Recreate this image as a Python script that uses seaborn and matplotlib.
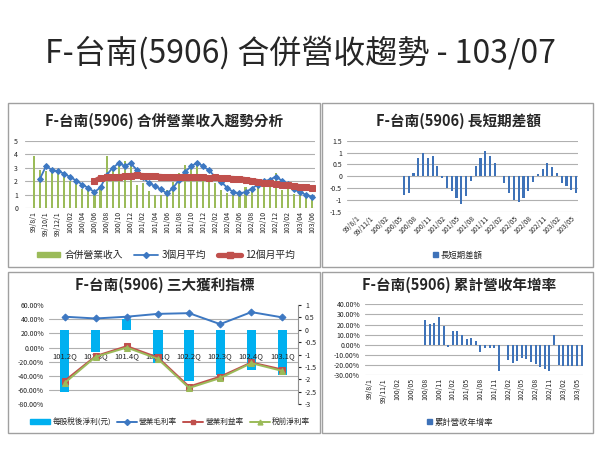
import numpy as np
import pandas as pd
import matplotlib
matplotlib.use('Agg')
import matplotlib.pyplot as plt
import matplotlib.patches as mpatches
from matplotlib.lines import Line2D
import seaborn as sns

# ---- data ----
months = (["99/8/1", "99/9/1", "99/10/1", "99/11/1", "99/12/1"]
          + [f"{y}/{m:02d}" for y in (100, 101, 102) for m in range(1, 13)]
          + [f"103/{m:02d}" for m in range(1, 7)])

revenue = [3.87, 2.8, 2.75, 2.7, 2.6, 2.3, 2.0, 1.9, 1.4, 1.35, 1.2, 1.5,
           3.9, 2.95, 3.1, 3.5, 3.2, 1.7, 1.85, 1.25, 1.0, 1.0, 1.35, 1.95,
           2.6, 3.2, 3.2, 3.5, 2.0, 2.1, 1.9, 1.35, 1.15, 1.05, 1.15, 1.55,
           1.45, 1.8, 1.8, 1.55, 2.6, 1.35, 1.4, 1.05, 1.0, 0.95, 0.8]

avg3 = [None,
        2.2, 3.15, 2.8, 2.75, 2.55, 2.3, 2.05, 1.75, 1.5, 1.2, 1.55, 2.45,
        3.0, 3.32, 3.15, 3.32, 2.85, 2.3, 1.85, 1.65, 1.4, 1.1, 1.5, 2.1,
        2.7, 3.1, 3.38, 3.1, 2.8, 2.3, 1.95, 1.5, 1.2, 1.1, 1.2, 1.45,
        1.75, 2.0, 2.1, 2.35, 2.05, 1.8, 1.4, 1.2, 1.0, 0.85]

avg12 = [None] * 10 + [
    2.0, 2.25, 2.28, 2.3, 2.33, 2.38, 2.42, 2.45, 2.42, 2.4, 2.38, 2.35,
    2.32, 2.3, 2.28, 2.3, 2.3, 2.3, 2.28, 2.25, 2.28, 2.25, 2.22, 2.2,
    2.18, 2.12, 2.05, 1.98, 1.9, 1.85, 1.8, 1.75, 1.7, 1.65, 1.6, 1.55, 1.5]

spread = [None] * 10 + [
    -0.8, -0.68, 0.15, 0.77, 0.98, 0.78, 0.85, 0.45, -0.05, -0.5, -0.62,
    -0.9, -1.15, -0.82, -0.18, 0.42, 0.78, 1.05, 0.85, 0.55, 0.01, -0.27,
    -0.68, -0.98, -1.08, -0.92, -0.6, -0.22, 0.08, 0.3, 0.55, 0.38, 0.15,
    -0.3, -0.4, -0.58, -0.68]

yoy = [None] * 12 + [
    25, 21, 22, 27.5, 19, -2, 14, 14, 10, 6, 7, 4, -7, -2.7, -2.7, -2.7,
    -26, None, -15, -17.7, -15.7, -13.3, -14.3, -16.7, -19, -22.3, -23.3,
    -25.7, 9.3, -20, -21, -20.7, -20.7, -21, -21]

quarters = ["101.2Q", "101.3Q", "101.4Q", "102.1Q", "102.2Q", "102.3Q", "102.4Q", "103.1Q"]
eps = [-2.5, -0.9, 0.45, -1.35, -2.05, -1.8, -1.6, -1.8]
gross_margin = [43.5, 41, 43.5, 47.5, 48.5, 33, 50, 42.5]
op_margin = [-47, -12, 2, -14, -55, -41, -21, -31]
pretax_margin = [-50, -13, 0, -16, -57, -43, -22, -33]

GREEN = '#9BBB59'
BLUE = '#3D78C2'
RED = '#C0504D'
BARBLUE = '#3E72B8'
CYAN = '#00B0F0'
GRID = '#B0B0B0'

sns.set_style('white')
plt.rcParams['font.family'] = ['Noto Sans CJK TC', 'DejaVu Sans']
plt.rcParams['axes.unicode_minus'] = False

W, H = 600, 450
fig = plt.figure(figsize=(6, 4.5), dpi=100)


def px_axes(x0, y0, x1, y1):
    return fig.add_axes([x0 / W, 1 - y1 / H, (x1 - x0) / W, (y1 - y0) / H])


def box(x0, y0, x1, y1):
    fig.add_artist(mpatches.Rectangle((x0 / W, 1 - y1 / H), (x1 - x0) / W, (y1 - y0) / H,
                                      transform=fig.transFigure, fill=False,
                                      ec='#A0A0A0', lw=1))


def style(ax, ylabels_size=5):
    for s in ax.spines.values():
        s.set_visible(False)
    ax.set_xlabel('')
    ax.set_ylabel('')
    ax.yaxis.grid(True, color=GRID, lw=0.8)
    ax.xaxis.grid(False)
    ax.set_axisbelow(True)
    ax.tick_params(length=0, labelsize=ylabels_size, colors='#222222')


fig.text(0.5, 1 - 53 / H, 'F-台南(5906) 合併營收趨勢 - 103/07', ha='center', va='center',
         fontsize=23)

box(8, 103, 320, 267)
box(322, 103, 593, 267)
box(8, 272, 320, 433)
box(322, 272, 593, 433)

pos = np.arange(len(months))

# ---- top-left: revenue trend ----
ax1 = px_axes(25, 140.7, 315, 208.3)
df_rev = pd.DataFrame({'month': months, 'rev': revenue, 'pos': pos,
                       'avg3': avg3, 'avg12': avg12})
sns.barplot(data=df_rev, x='month', y='rev', order=months, color=GREEN,
            width=0.35, saturation=1, linewidth=0, ax=ax1)
sns.lineplot(data=df_rev.dropna(subset=['avg3']), x='pos', y='avg3', color=BLUE,
             lw=1.3, marker='D', markersize=3, markeredgecolor=BLUE, ax=ax1)
sns.lineplot(data=df_rev.dropna(subset=['avg12']), x='pos', y='avg12', color=RED,
             lw=3.8, marker='s', markersize=5, markeredgecolor=RED, ax=ax1)
style(ax1)
ax1.set_ylim(0, 5)
ax1.set_yticks(range(0, 6))
ax1.set_xlim(-1.5, 46.5)
ax1.set_xticks(pos[::2])
ax1.set_xticklabels(months[::2], rotation=90, fontsize=5)
ax1.tick_params(axis='x', pad=2)
ax1.tick_params(axis='y', pad=5)
fig.text(164 / W, 1 - 121 / H, 'F-台南(5906) 合併營業收入趨勢分析', ha='center', va='center',
         fontsize=10.5, fontweight='bold')
fig.legend(handles=[mpatches.Patch(color=GREEN),
                    Line2D([], [], color=BLUE, lw=1.3, marker='D', ms=3),
                    Line2D([], [], color=RED, lw=3.8, marker='s', ms=5)],
           labels=['合併營業收入', '3個月平均', '12個月平均'],
           loc='center', bbox_to_anchor=(166 / W, 1 - 255 / H), ncol=3, frameon=False,
           fontsize=7, handlelength=2.4, handleheight=0.5, columnspacing=1.2,
           handletextpad=0.4)

# ---- top-right: spread ----
ax2 = px_axes(347, 140.7, 578, 212)
df_spread = pd.DataFrame({'month': months, 'spread': spread})
sns.barplot(data=df_spread, x='month', y='spread', order=months, color=BARBLUE,
            width=0.45, saturation=1, linewidth=0, ax=ax2)
style(ax2)
ax2.set_ylim(-1.5, 1.5)
ax2.set_yticks(np.arange(-1.5, 1.51, 0.5))
ax2.set_yticklabels([f'{v:g}' for v in np.arange(-1.5, 1.51, 0.5)])
ax2.set_xlim(-1.9, 46.4)
ax2.set_xticks(pos[::3])
ax2.set_xticklabels(months[::3], rotation=45, ha='right', rotation_mode='anchor', fontsize=5)
ax2.tick_params(axis='x', pad=2)
fig.text(458 / W, 1 - 121 / H, 'F-台南(5906) 長短期差額', ha='center', va='center',
         fontsize=10.5, fontweight='bold')
fig.legend(handles=[mpatches.Patch(color=BARBLUE)], labels=['長短期差額'],
           loc='center', bbox_to_anchor=(458 / W, 1 - 255 / H), frameon=False,
           fontsize=6, handlelength=0.6, handleheight=0.6, handletextpad=0.3)

# ---- bottom-left: margins ----
ax3 = px_axes(49, 305, 298, 404.3)
ax3b = ax3.twinx()
ax3.set_zorder(ax3b.get_zorder() + 1)
ax3.patch.set_visible(False)
df_q = pd.DataFrame({'quarter': quarters, 'pos': np.arange(len(quarters)), 'eps': eps,
                     'gross': gross_margin, 'op': op_margin, 'pretax': pretax_margin})
sns.barplot(data=df_q, x='quarter', y='eps', order=quarters, color=CYAN, width=0.3,
            saturation=1, linewidth=0, ax=ax3b)
sns.lineplot(data=df_q, x='pos', y='gross', color=BLUE, lw=1.4, marker='D',
             markersize=3.5, markeredgecolor=BLUE, ax=ax3)
sns.lineplot(data=df_q, x='pos', y='op', color=RED, lw=1.4, marker='s',
             markersize=4, markeredgecolor=RED, ax=ax3)
sns.lineplot(data=df_q, x='pos', y='pretax', color=GREEN, lw=1.4, marker='^',
             markersize=4, markeredgecolor=GREEN, ax=ax3)
for a in (ax3, ax3b):
    for s in a.spines.values():
        s.set_visible(False)
    a.set_xlabel('')
    a.set_ylabel('')
pct_lo, pct_hi = -80, 60
eps_lo, eps_hi = -3, 1
ax3.set_ylim(pct_lo, pct_hi)
pct_ticks = np.arange(pct_lo, pct_hi + 1, 20)
ax3.set_yticks(pct_ticks)
ax3.set_yticklabels([f'{v:.2f}%' for v in pct_ticks])
ax3.yaxis.grid(False)
ax3.tick_params(axis='y', length=0, labelsize=5, colors='#222222')
ax3.spines['bottom'].set_position(('data', 0))
ax3.set_xlim(-0.5, len(quarters) - 0.5)
ax3.set_xticks(df_q['pos'])
ax3.set_xticklabels(quarters, fontsize=5.5)
ax3.tick_params(axis='x', length=0, pad=3, colors='#222222')
ax3b.set_ylim(eps_lo, eps_hi)
eps_ticks = np.arange(eps_lo, eps_hi + 0.01, 0.5)
ax3b.set_yticks(eps_ticks)
ax3b.set_yticklabels([f'{v:g}' for v in eps_ticks])
ax3b.set_yticks(eps_lo + (pct_ticks - pct_lo) / (pct_hi - pct_lo) * (eps_hi - eps_lo), minor=True)
ax3b.yaxis.grid(True, which='minor', color=GRID, lw=0.8)
ax3b.yaxis.grid(False, which='major')
ax3b.set_axisbelow(True)
ax3b.spines['right'].set_visible(True)
ax3b.spines['right'].set_color('#909090')
ax3b.tick_params(axis='y', which='major', length=2, direction='out', labelsize=5,
                 colors='#222222', pad=3)
ax3b.tick_params(axis='y', which='minor', length=0)
fig.text(165 / W, 1 - 285 / H, 'F-台南(5906) 三大獲利指標', ha='center', va='center',
         fontsize=10.5, fontweight='bold')
fig.legend(handles=[mpatches.Patch(color=CYAN),
                    Line2D([], [], color=BLUE, lw=1.4, marker='D', ms=3),
                    Line2D([], [], color=RED, lw=1.4, marker='s', ms=3.5),
                    Line2D([], [], color=GREEN, lw=1.4, marker='^', ms=3.5)],
           labels=['每股稅後淨利(元)', '營業毛利率', '營業利益率', '稅前淨利率'],
           loc='center', bbox_to_anchor=(170 / W, 1 - 422 / H), ncol=4, frameon=False,
           fontsize=5.5, handlelength=2.6, handleheight=0.6, columnspacing=0.8,
           handletextpad=0.3)

# ---- bottom-right: cumulative yoy ----
ax4 = px_axes(365, 304.3, 583, 375.3)
df_yoy = pd.DataFrame({'month': months, 'yoy': yoy})
sns.barplot(data=df_yoy, x='month', y='yoy', order=months, color=BARBLUE,
            width=0.45, saturation=1, linewidth=0, ax=ax4)
style(ax4)
ax4.set_ylim(-30, 40)
yoy_ticks = np.arange(-30, 41, 10)
ax4.set_yticks(yoy_ticks)
ax4.set_yticklabels([f'{v:.2f}%' for v in yoy_ticks])
ax4.set_xlim(-1.1, 46.3)
ax4.set_xticks(pos[::3])
ax4.set_xticklabels(months[::3], rotation=90, fontsize=5)
ax4.tick_params(axis='x', pad=2)
fig.text(459 / W, 1 - 285 / H, 'F-台南(5906) 累計營收年增率', ha='center', va='center',
         fontsize=10.5, fontweight='bold')
fig.legend(handles=[mpatches.Patch(color=BARBLUE)], labels=['累計營收年增率'],
           loc='center', bbox_to_anchor=(460 / W, 1 - 422 / H), frameon=False,
           fontsize=6, handlelength=0.6, handleheight=0.6, handletextpad=0.3)

fig.savefig('out.png', dpi=100)
